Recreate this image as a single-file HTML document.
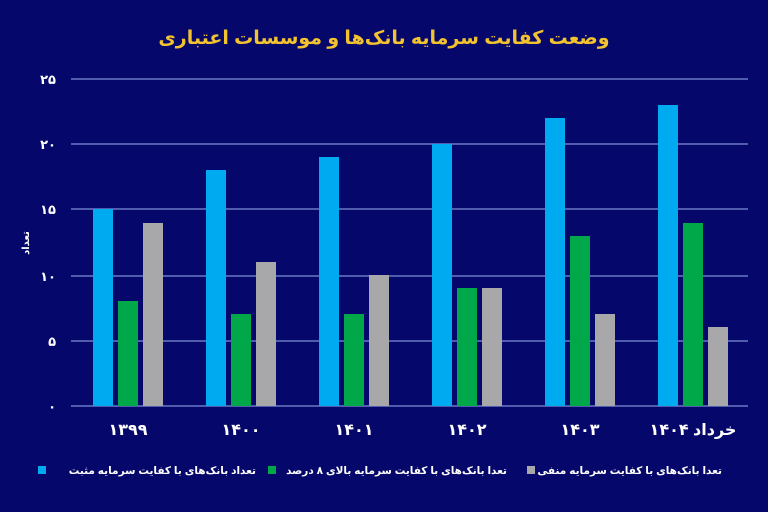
<!DOCTYPE html>
<html><head><meta charset="utf-8"><style>
html,body{margin:0;padding:0;background:#05086a;}
svg{display:block}
text{font-family:"Liberation Sans","DejaVu Sans",sans-serif;}
</style></head><body>
<svg width="768" height="512" viewBox="0 0 768 512" xmlns="http://www.w3.org/2000/svg">
<rect width="768" height="512" fill="#05086a"/>
<text x="384" y="44" text-anchor="middle" fill="#f2c230" font-size="19" font-weight="bold" direction="rtl">وضعت کفایت سرمایه بانک‌ها و موسسات اعتباری</text>
<g stroke="#6a78c4" stroke-width="1.5">
<line x1="71" y1="79" x2="748" y2="79"/>
<line x1="71" y1="144" x2="748" y2="144"/>
<line x1="71" y1="209" x2="748" y2="209"/>
<line x1="71" y1="276" x2="748" y2="276"/>
<line x1="71" y1="341" x2="748" y2="341"/>
<line x1="71" y1="406" x2="748" y2="406"/>
</g>
<g fill="#ffffff" font-size="13" font-weight="bold" text-anchor="end">
<text x="56" y="84">۲۵</text>
<text x="56" y="149">۲۰</text>
<text x="56" y="214">۱۵</text>
<text x="56" y="281">۱۰</text>
<text x="56" y="346">۵</text>
<text x="56" y="411">۰</text>
</g>
<text transform="translate(29,243) rotate(-90)" text-anchor="middle" fill="#fff" font-size="10" font-weight="bold">تعداد</text>
<g>
<rect x="93" y="209" width="20" height="197" fill="#00aaf0"/>
<rect x="118" y="301" width="20" height="105" fill="#00a84a"/>
<rect x="143" y="223" width="20" height="183" fill="#a8a8aa"/>
<rect x="206" y="170" width="20" height="236" fill="#00aaf0"/>
<rect x="231" y="314" width="20" height="92" fill="#00a84a"/>
<rect x="256" y="262" width="20" height="144" fill="#a8a8aa"/>
<rect x="319" y="157" width="20" height="249" fill="#00aaf0"/>
<rect x="344" y="314" width="20" height="92" fill="#00a84a"/>
<rect x="369" y="275" width="20" height="131" fill="#a8a8aa"/>
<rect x="432" y="144" width="20" height="262" fill="#00aaf0"/>
<rect x="457" y="288" width="20" height="118" fill="#00a84a"/>
<rect x="482" y="288" width="20" height="118" fill="#a8a8aa"/>
<rect x="545" y="118" width="20" height="288" fill="#00aaf0"/>
<rect x="570" y="236" width="20" height="170" fill="#00a84a"/>
<rect x="595" y="314" width="20" height="92" fill="#a8a8aa"/>
<rect x="658" y="105" width="20" height="301" fill="#00aaf0"/>
<rect x="683" y="223" width="20" height="183" fill="#00a84a"/>
<rect x="708" y="327" width="20" height="79" fill="#a8a8aa"/>
</g>
<g fill="#fff" font-size="16" font-weight="bold" text-anchor="middle">
<text x="128" y="435">۱۳۹۹</text>
<text x="241" y="435">۱۴۰۰</text>
<text x="354" y="435">۱۴۰۱</text>
<text x="467" y="435">۱۴۰۲</text>
<text x="580" y="435">۱۴۰۳</text>
<text x="693" y="435" direction="rtl">خرداد ۱۴۰۴</text>
</g>
<g font-size="10.5" font-weight="bold" fill="#fff">
<rect x="38" y="466" width="8" height="8" fill="#00aaf0"/>
<text x="256" y="474" direction="rtl" text-anchor="start">تعداد بانک‌های با کفایت سرمایه مثبت</text>
<rect x="268" y="466" width="8" height="8" fill="#00a84a"/>
<text x="507" y="474" direction="rtl" text-anchor="start">تعدا بانک‌های با کفایت سرمایه بالای ۸ درصد</text>
<rect x="527" y="466" width="8" height="8" fill="#a8a8aa"/>
<text x="722" y="474" direction="rtl" text-anchor="start">تعدا بانک‌های با کفایت سرمایه منفی</text>
</g>
</svg>
</body></html>
